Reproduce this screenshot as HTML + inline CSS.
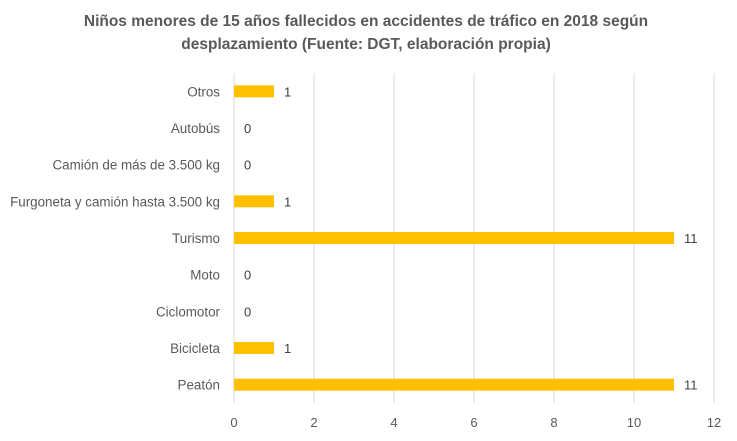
<!DOCTYPE html>
<html><head><meta charset="utf-8"><style>
body{margin:0;background:#fff;}
svg{display:block;font-family:"Liberation Sans",sans-serif;}
</style></head><body>
<svg id="c" width="737" height="441">
<text x="366" y="26" text-anchor="middle" font-size="15.5" font-weight="bold" fill="#595959">Niños menores de 15 años fallecidos en accidentes de tráfico en 2018 según</text>
<text x="366" y="49" text-anchor="middle" font-size="15.5" font-weight="bold" fill="#595959">desplazamiento (Fuente: DGT, elaboración propia)</text>
<g id="grid"></g><g id="bars"></g>
</svg>
<script>
const categories=["Otros","Autobús","Camión de más de 3.500 kg","Furgoneta y camión hasta 3.500 kg","Turismo","Moto","Ciclomotor","Bicicleta","Peatón"];
const values=[1,0,0,1,11,0,0,1,11];
const ticks=[0,2,4,6,8,10,12];
const NS="http://www.w3.org/2000/svg";
const x0=234,x1=714,yTop=73,yBottom=403,xMax=12;
const xs=v=>x0+(x1-x0)*v/xMax;
const band=(yBottom-yTop)/categories.length;
const ys=i=>yTop+band*(i+0.5);
const g=document.getElementById('grid'),b=document.getElementById('bars');
function mk(p,t,a){const e=document.createElementNS(NS,t);for(const k in a)e.setAttribute(k,a[k]);p.appendChild(e);return e;}
ticks.forEach(t=>{
 const l=mk(g,'line',{x1:xs(t),x2:xs(t),y1:yTop,y2:yBottom,stroke:'#d9d9d9','stroke-width':1});
 
 
 const tx=mk(g,'text',{x:xs(t),y:427,'text-anchor':'middle','font-size':13,fill:'#595959'});
 tx.textContent=t;
 
 
});
categories.forEach((c,i)=>{
 const y=ys(i);
 const lb=mk(b,'text',{x:220,y:y+5,'text-anchor':'end','font-size':13.4,fill:'#595959'});
 lb.textContent=c;
 
 
 const r=mk(b,'rect',{x:x0,y:y-6,width:xs(values[i])-x0,height:12,fill:'#FFC000'});
 
 
 const v=mk(b,'text',{x:xs(values[i])+10,y:y+5,'font-size':13,fill:'#404040'});
 v.textContent=values[i];
 
 
});
</script>
</body></html>
